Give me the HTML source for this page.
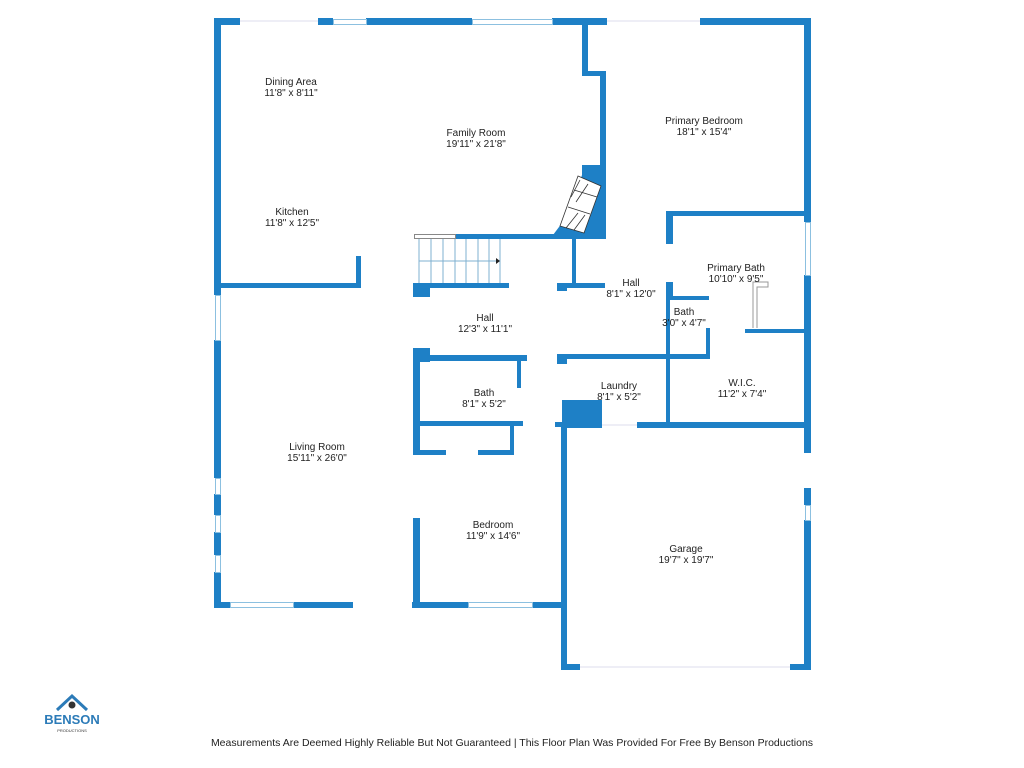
<!DOCTYPE html>
<html><head><meta charset="utf-8"><style>
html,body{margin:0;padding:0;background:#fff;width:1024px;height:768px;overflow:hidden}
svg{display:block}
text{font-family:"Liberation Sans","DejaVu Sans",sans-serif;font-size:10px;fill:#222;text-anchor:middle}
</style></head><body>
<svg width="1024" height="768" viewBox="0 0 1024 768">
<g fill="#1e80c6">
<rect x="214" y="18" width="26" height="7"/>
<rect x="318" y="18" width="15" height="7"/>
<rect x="366" y="18" width="106" height="7"/>
<rect x="552" y="18" width="55" height="7"/>
<rect x="700" y="18" width="110" height="7"/>
<rect x="214" y="18" width="7" height="277"/>
<rect x="214" y="340" width="7" height="138"/>
<rect x="214" y="494" width="7" height="21"/>
<rect x="214" y="532" width="7" height="23"/>
<rect x="214" y="572" width="7" height="35"/>
<rect x="804" y="18" width="7" height="204"/>
<rect x="804" y="275" width="7" height="178"/>
<rect x="804" y="488" width="7" height="17"/>
<rect x="804" y="520" width="7" height="150"/>
<rect x="582" y="24" width="6" height="51"/>
<rect x="582" y="71" width="24" height="5"/>
<rect x="600" y="71" width="6" height="168"/>
<polygon points="582,165 606,165 606,239 550,239 568,215 582,175"/>
<rect x="455" y="234" width="151" height="5"/>
<rect x="572" y="234" width="4" height="50"/>
<rect x="220" y="283" width="141" height="5"/>
<rect x="356" y="256" width="5" height="32"/>
<rect x="413" y="283" width="96" height="5"/>
<rect x="413" y="283" width="17" height="14"/>
<rect x="557" y="283" width="10" height="8"/>
<rect x="567" y="283" width="38" height="5"/>
<rect x="666" y="211" width="144" height="5"/>
<rect x="666" y="211" width="7" height="33"/>
<rect x="666" y="282" width="7" height="15"/>
<rect x="666" y="282" width="4" height="145"/>
<rect x="669" y="296" width="40" height="4"/>
<rect x="706" y="328" width="4" height="31"/>
<rect x="745" y="329" width="65" height="4"/>
<rect x="558" y="354" width="152" height="5"/>
<rect x="557" y="354" width="10" height="10"/>
<rect x="637" y="422" width="173" height="6"/>
<rect x="562" y="400" width="40" height="28"/>
<rect x="555" y="422" width="10" height="5"/>
<rect x="413" y="348" width="17" height="14"/>
<rect x="413" y="355" width="114" height="6"/>
<rect x="517" y="355" width="4" height="33"/>
<rect x="413" y="421" width="110" height="5"/>
<rect x="413" y="348" width="7" height="107"/>
<rect x="413" y="518" width="7" height="89"/>
<rect x="510" y="424" width="4" height="31"/>
<rect x="420" y="450" width="26" height="5"/>
<rect x="478" y="450" width="36" height="5"/>
<rect x="214" y="602" width="16" height="6"/>
<rect x="293" y="602" width="60" height="6"/>
<rect x="412" y="602" width="56" height="6"/>
<rect x="532" y="602" width="32" height="6"/>
<rect x="561" y="422" width="6" height="248"/>
<rect x="561" y="664" width="19" height="6"/>
<rect x="790" y="664" width="20" height="6"/>
</g>
<g fill="#fff" stroke="#8cc0e0" stroke-width="1">
<rect x="333.5" y="19.5" width="33" height="5"/>
<rect x="472.5" y="19.5" width="80" height="5"/>
<rect x="215.5" y="295.5" width="5" height="45"/>
<rect x="215.5" y="478.5" width="5" height="16"/>
<rect x="215.5" y="515.5" width="5" height="17"/>
<rect x="215.5" y="555.5" width="5" height="17"/>
<rect x="805.5" y="222.5" width="5" height="53"/>
<rect x="805.5" y="505.5" width="5" height="15"/>
<rect x="230.5" y="602.5" width="63" height="5"/>
<rect x="468.5" y="602.5" width="64" height="5"/>
<rect x="414.5" y="234.5" width="41" height="4" stroke="#888"/>
</g>
<g stroke="#dde" stroke-width="1" fill="none">
<line x1="240" y1="21" x2="318" y2="21"/><line x1="607" y1="21" x2="700" y2="21"/>
<line x1="580" y1="667" x2="790" y2="667"/><line x1="602" y1="425" x2="637" y2="425"/>
</g>
<g stroke="#7fb0d0" stroke-width="1" fill="none">
<line x1="419" y1="239" x2="419" y2="283"/><line x1="431" y1="239" x2="431" y2="283"/>
<line x1="443" y1="239" x2="443" y2="283"/><line x1="455" y1="239" x2="455" y2="283"/>
<line x1="466" y1="239" x2="466" y2="283"/><line x1="478" y1="239" x2="478" y2="283"/>
<line x1="489" y1="239" x2="489" y2="283"/><line x1="500" y1="239" x2="500" y2="283"/>
<line x1="419" y1="261" x2="496" y2="261"/>
</g>
<polygon points="496,258 500,261 496,264" fill="#222"/>
<g stroke="#333" stroke-width="0.8" fill="#fff">
<polygon points="578,176 601,186 584,233 560,226"/>
<line x1="574" y1="190" x2="597" y2="197"/><line x1="568" y1="207" x2="590" y2="214"/>
<line x1="580" y1="180" x2="571" y2="197"/><line x1="588" y1="184" x2="576" y2="202"/>
<line x1="578" y1="213" x2="566" y2="228"/><line x1="585" y1="215" x2="574" y2="230"/>
</g>
<g stroke="#999" stroke-width="1" fill="none">
<path d="M753,328 V282 H768 V287 H757 V328"/>
</g>
<text x="291" y="85">Dining Area</text><text x="291" y="96">11'8" x 8'11"</text>
<text x="476" y="136">Family Room</text><text x="476" y="147">19'11" x 21'8"</text>
<text x="704" y="124">Primary Bedroom</text><text x="704" y="135">18'1" x 15'4"</text>
<text x="292" y="215">Kitchen</text><text x="292" y="226">11'8" x 12'5"</text>
<text x="736" y="271">Primary Bath</text><text x="736" y="282">10'10" x 9'5"</text>
<text x="631" y="286">Hall</text><text x="631" y="297">8'1" x 12'0"</text>
<text x="485" y="321">Hall</text><text x="485" y="332">12'3" x 11'1"</text>
<text x="684" y="315">Bath</text><text x="684" y="326">3'0" x 4'7"</text>
<text x="484" y="396">Bath</text><text x="484" y="407">8'1" x 5'2"</text>
<text x="619" y="389">Laundry</text><text x="619" y="400">8'1" x 5'2"</text>
<text x="742" y="386">W.I.C.</text><text x="742" y="397">11'2" x 7'4"</text>
<text x="317" y="450">Living Room</text><text x="317" y="461">15'11" x 26'0"</text>
<text x="493" y="528">Bedroom</text><text x="493" y="539">11'9" x 14'6"</text>
<text x="686" y="552">Garage</text><text x="686" y="563">19'7" x 19'7"</text>
<path d="M57,710 L72,696 L87,710" stroke="#2c7bb8" stroke-width="3" fill="none"/>
<circle cx="72" cy="705" r="3.5" fill="#333"/>
<text x="72" y="724" style="font-size:13px;font-weight:bold;fill:#2c7bb8">BENSON</text>
<text x="72" y="732" style="font-size:4px;fill:#333">PRODUCTIONS</text>
<text x="512" y="746" style="font-size:10.5px">Measurements Are Deemed Highly Reliable But Not Guaranteed | This Floor Plan Was Provided For Free By Benson Productions</text>
</svg>
</body></html>
